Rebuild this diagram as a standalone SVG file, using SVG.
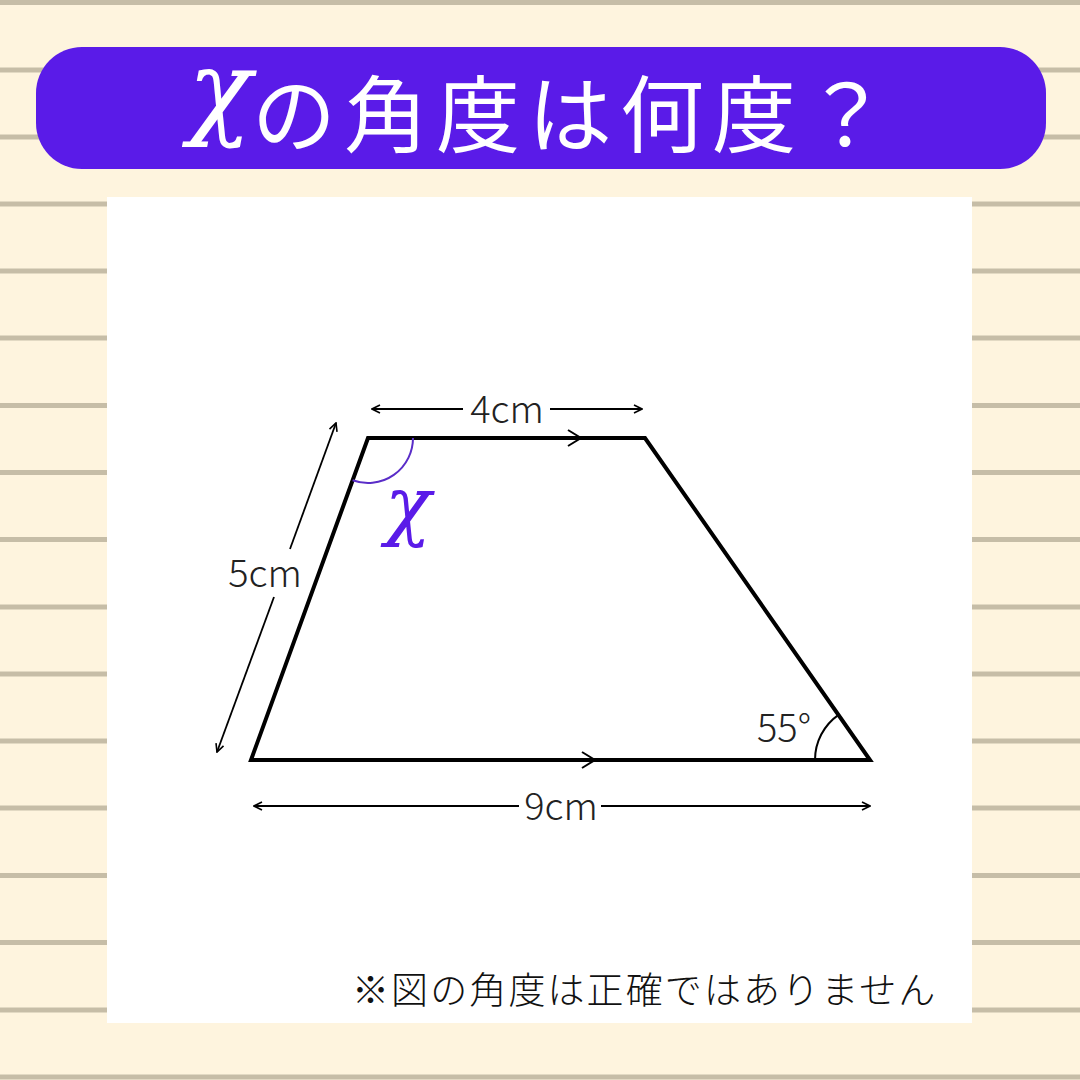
<svg xmlns="http://www.w3.org/2000/svg" width="1080" height="1080" viewBox="0 0 1080 1080">
<defs>
<style>
.rule{stroke:#C6BDA7;stroke-width:5}
.edge{fill:none;stroke:#000;stroke-width:4;stroke-linejoin:miter}
.dim{fill:none;stroke:#000;stroke-width:1.8}
.chev{fill:none;stroke:#000;stroke-width:2}
.lbl{font-family:"Noto Sans CJK JP","Noto Sans",sans-serif;font-size:38px;fill:#222;font-weight:300;text-anchor:middle}
.note{font-family:"Noto Sans CJK JP","Noto Sans",sans-serif;font-size:37px;fill:#111;font-weight:300;letter-spacing:2.1px}
.chi{font-family:"DejaVu Serif",serif;font-style:italic}
</style>
<marker id="ah" viewBox="0 0 10 10" refX="9" refY="5" markerWidth="10" markerHeight="10" markerUnits="userSpaceOnUse" orient="auto-start-reverse">
<path d="M1,1 L9,5 L1,9" fill="none" stroke="#000" stroke-width="1.6"/>
</marker>
</defs>
<rect width="1080" height="1080" fill="#FEF4DE"/>
<g id="rules">
<line class="rule" x1="0" y1="2.5" x2="1080" y2="2.5"/>
<line class="rule" x1="0" y1="70" x2="1080" y2="70"/>
<line class="rule" x1="0" y1="137" x2="1080" y2="137"/>
<line class="rule" x1="0" y1="204" x2="1080" y2="204"/>
<line class="rule" x1="0" y1="271" x2="1080" y2="271"/>
<line class="rule" x1="0" y1="338" x2="1080" y2="338"/>
<line class="rule" x1="0" y1="405.5" x2="1080" y2="405.5"/>
<line class="rule" x1="0" y1="472.5" x2="1080" y2="472.5"/>
<line class="rule" x1="0" y1="539.5" x2="1080" y2="539.5"/>
<line class="rule" x1="0" y1="607" x2="1080" y2="607"/>
<line class="rule" x1="0" y1="674" x2="1080" y2="674"/>
<line class="rule" x1="0" y1="741" x2="1080" y2="741"/>
<line class="rule" x1="0" y1="808" x2="1080" y2="808"/>
<line class="rule" x1="0" y1="875.5" x2="1080" y2="875.5"/>
<line class="rule" x1="0" y1="942.5" x2="1080" y2="942.5"/>
<line class="rule" x1="0" y1="1010" x2="1080" y2="1010"/>
<line class="rule" x1="0" y1="1077" x2="1080" y2="1077"/>
</g>
<g id="title">
<rect x="36" y="47" width="1010" height="122" rx="46" fill="#5A1BE8"/>
<text x="188" y="125" class="chi" font-size="105" fill="#fff">χ</text>
<text x="252" y="146" font-family="Noto Sans CJK JP,sans-serif" font-size="84" font-weight="400" fill="#fff" letter-spacing="8">の角度は何度？</text>
</g>
<rect id="panel" x="107" y="197" width="865" height="826" fill="#fff"/>
<g id="trapezoid">
<polygon class="edge" points="368,438 645,438 870,760 251,760"/>
<polyline class="chev" points="568,430 581,438 568,446"/>
<polyline class="chev" points="582,752 595,760 582,768"/>
</g>
<g id="angle-x">
<path d="M413,438 A45,45 0 0 1 352.6,480.3" fill="none" stroke="#5A2DC8" stroke-width="2"/>
<text x="385" y="531" class="chi" font-size="76" fill="#5A1BE8">χ</text>
</g>
<g id="angle-55">
<path d="M815,760 A55,55 0 0 1 838.5,714.9" fill="none" stroke="#000" stroke-width="2"/>
<text x="784" y="742" class="lbl">55°</text>
</g>
<g id="dimensions">
<line class="dim" x1="372" y1="409" x2="463" y2="409" marker-start="url(#ah)"/>
<line class="dim" x1="550" y1="409" x2="642" y2="409" marker-end="url(#ah)"/>
<text x="507" y="423" class="lbl">4cm</text>
<line class="dim" x1="254" y1="806" x2="519" y2="806" marker-start="url(#ah)"/>
<line class="dim" x1="601" y1="806" x2="870" y2="806" marker-end="url(#ah)"/>
<text x="561" y="820" class="lbl">9cm</text>
<line class="dim" x1="290" y1="549" x2="336" y2="423" marker-end="url(#ah)"/>
<line class="dim" x1="274" y1="597" x2="217" y2="752" marker-end="url(#ah)"/>
<text x="265" y="587" class="lbl">5cm</text>
</g>
<text x="352" y="1004" class="note">※図の角度は正確ではありません</text>
</svg>
